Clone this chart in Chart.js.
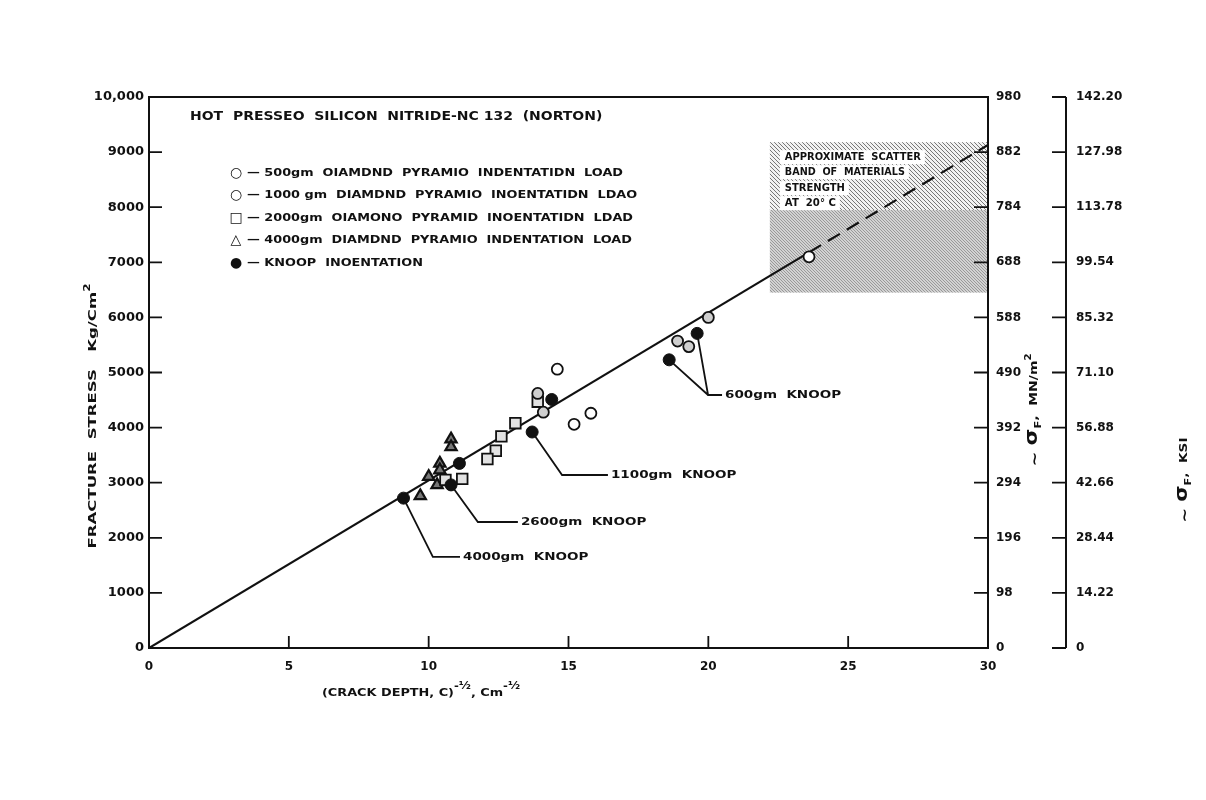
<!DOCTYPE html>
<html><head><meta charset="utf-8">
<script src="https://cdn.jsdelivr.net/npm/chart.js@4.4.0/dist/chart.umd.min.js"></script>
<style>html,body{margin:0;padding:0;background:#fff;}</style>
</head><body>
<canvas id="c" width="1206" height="800"></canvas>
<script>
// ---------- data ----------
const xTicks = [0, 5, 10, 15, 20, 25, 30];
const xTickLabels = ['0', '5', '10', '15', '20', '25', '30'];
const kgTicks = [0, 1000, 2000, 3000, 4000, 5000, 6000, 7000, 8000, 9000, 10000];
const kgTickLabels = ['0', '1000', '2000', '3000', '4000', '5000', '6000', '7000', '8000', '9000', '10,000'];
const mnTicks = [0, 98, 196, 294, 392, 490, 588, 686, 784, 882, 980];
const mnTickLabels = ['0', '98', '196', '294', '392', '490', '588', '688', '784', '882', '980'];
const ksiTicks = [0, 14.22, 28.44, 42.66, 56.88, 71.10, 85.32, 99.54, 113.76, 127.98, 142.20];
const ksiTickLabels = ['0', '14.22', '28.44', '42.66', '56.88', '71.10', '85.32', '99.54', '113.78', '127.98', '142.20'];

const load500X = [23.6, 14.6, 15.2, 15.8];
const load500Y = [7100, 5060, 4060, 4260];
const load1000X = [20.0, 18.9, 19.3, 14.1, 13.9];
const load1000Y = [6000, 5570, 5470, 4280, 4620];
const load2000X = [13.9, 13.1, 12.6, 12.4, 12.1, 11.2, 10.6];
const load2000Y = [4470, 4080, 3840, 3580, 3430, 3070, 3050];
const load4000X = [10.8, 10.8, 10.4, 10.4, 10.0, 9.7, 10.3];
const load4000Y = [3790, 3650, 3350, 3230, 3110, 2760, 2960];
const knoopX = [9.1, 10.8, 11.1, 13.7, 14.4, 18.6, 19.6];
const knoopY = [2720, 2960, 3350, 3920, 4510, 5230, 5710];

const fitSolidX = [0, 23.6];
const fitSolidY = [0, 7180];
const fitDashX = [23.6, 30];
const fitDashY = [7180, 9130];

const bandX = [22.2, 30];
const bandHatchY = [7950, 9180];
const bandGreyY = [6450, 7950];

const chartTitle = 'HOT  PRESSEO  SILICON  NITRIDE-NC 132  (NORTON)';
const legendLabels = [
  '— 500gm  OIAMDND  PYRAMIO  INDENTATIDN  LOAD',
  '— 1000 gm  DIAMDND  PYRAMIO  INOENTATIDN  LDAO',
  '— 2000gm  OIAMONO  PYRAMID  INOENTATIDN  LDAD',
  '— 4000gm  DIAMDND  PYRAMIO  INDENTATION  LOAD',
  '— KNOOP  INOENTATION'
];
const legendGlyphs = ['○', '○', '□', '△', '●'];

// ---------- helpers ----------
const FONT = '"DejaVu Sans", "Liberation Sans", sans-serif';
const pts = (xs, ys) => xs.map((v, i) => ({x: v, y: ys[i]}));

const callouts = [
  {text: '600gm  KNOOP', from: [[18.6, 5230], [19.6, 5710]], elbow: [19.99, 4592], end: 20.49},
  {text: '1100gm  KNOOP', from: [[13.7, 3920]], elbow: [14.77, 3140], end: 16.41},
  {text: '2600gm  KNOOP', from: [[10.8, 2960]], elbow: [11.76, 2287], end: 13.19},
  {text: '4000gm  KNOOP', from: [[9.1, 2720]], elbow: [10.15, 1652], end: 11.12}
];

function fitText(ctx, text, x, y, w, size, sx) {
  ctx.font = 'bold ' + size + 'px ' + FONT;
  const m = ctx.measureText(text).width;
  const s = sx ? sx : (w ? w / m : 1);
  ctx.save();
  ctx.translate(x, y);
  ctx.scale(s, 1);
  ctx.textAlign = 'left';
  ctx.textBaseline = 'middle';
  ctx.fillText(text, 0, 0);
  ctx.restore();
  return m * s;
}

function drawRuns(ctx, runs, cx, cy, rot, targetLen) {
  let total = 0;
  runs.forEach(r => { ctx.font = 'bold ' + r.size + 'px ' + FONT; r.w = ctx.measureText(r.t).width; total += r.w; });
  const s = targetLen ? targetLen / total : 1;
  ctx.save();
  ctx.translate(cx, cy);
  ctx.rotate(rot);
  let x = -total * s / 2;
  runs.forEach(r => {
    ctx.font = 'bold ' + r.size + 'px ' + FONT;
    ctx.save();
    ctx.translate(x, r.dy || 0);
    ctx.scale(s, 1);
    ctx.textAlign = 'left';
    ctx.textBaseline = 'alphabetic';
    ctx.fillText(r.t, 0, 0);
    ctx.restore();
    x += r.w * s;
  });
  ctx.restore();
}

let hatchPat = null, greyPat = null;
function makePattern(ctx, s, color, lw, bg) {
  const c = document.createElement('canvas');
  c.width = s; c.height = s;
  const g = c.getContext('2d');
  if (bg) { g.fillStyle = bg; g.fillRect(0, 0, s, s); }
  g.strokeStyle = color; g.lineWidth = lw;
  g.beginPath();
  for (let k = -1; k <= 1; k++) { g.moveTo(k * s, 0); g.lineTo(k * s + s, s); }
  g.stroke();
  return ctx.createPattern(c, 'repeat');
}

const decor = {
  id: 'decor',
  beforeDraw(chart) {
    const c = chart.ctx;
    c.save(); c.fillStyle = '#fff'; c.fillRect(0, 0, chart.width, chart.height); c.restore();
  },
  beforeDatasetsDraw(chart) {
    const {ctx, scales: {x, y}} = chart;
    if (!hatchPat) {
      hatchPat = makePattern(ctx, 4, '#777', 1, '#f2f2f2');
      greyPat = makePattern(ctx, 3, '#999', 1, '#d2d2d2');
    }
    const x0 = x.getPixelForValue(bandX[0]), x1 = x.getPixelForValue(bandX[1]);
    const yHt = y.getPixelForValue(bandHatchY[1]), yHb = y.getPixelForValue(bandHatchY[0]);
    const yGt = y.getPixelForValue(bandGreyY[1]), yGb = y.getPixelForValue(bandGreyY[0]);
    ctx.save();
    ctx.fillStyle = hatchPat; ctx.fillRect(x0, yHt, x1 - x0, yHb - yHt);
    ctx.fillStyle = greyPat; ctx.fillRect(x0, yGt, x1 - x0, yGb - yGt);
    const lines = [['APPROXIMATE  SCATTER', 15, 136], ['BAND  OF  MATERIALS', 30, 120], ['STRENGTH', 46, 60], ['AT  20° C', 61, 51]];
    ctx.fillStyle = '#fff';
    lines.forEach(l => ctx.fillRect(x0 + 10, yHt + l[1] - 7, l[2] + 9, 14));
    ctx.fillStyle = '#111';
    lines.forEach(l => fitText(ctx, l[0], x0 + 15, yHt + l[1], l[2], 10));
    ctx.restore();
  },
  afterDraw(chart) {
    const {ctx, chartArea: a, scales: {x, y, y2, y3}} = chart;
    ctx.save();
    ctx.strokeStyle = '#111'; ctx.fillStyle = '#111';
    // frame
    ctx.lineWidth = 2;
    ctx.strokeRect(a.left, a.top, a.right - a.left, a.bottom - a.top);
    // KSI axis line
    ctx.beginPath();
    ctx.moveTo(y3.left, y3.getPixelForValue(ksiTicks[0]));
    ctx.lineTo(y3.left, y3.getPixelForValue(ksiTicks[ksiTicks.length - 1]));
    ctx.stroke();
    // tick marks
    ctx.lineWidth = 1.8;
    ctx.beginPath();
    kgTicks.forEach(v => { const p = y.getPixelForValue(v); ctx.moveTo(a.left, p); ctx.lineTo(a.left + 13, p); });
    xTicks.forEach(v => { const p = x.getPixelForValue(v); ctx.moveTo(p, a.bottom); ctx.lineTo(p, a.bottom - 12); });
    mnTicks.forEach(v => { const p = y2.getPixelForValue(v); ctx.moveTo(a.right, p); ctx.lineTo(a.right - 14, p); });
    ksiTicks.forEach(v => { const p = y3.getPixelForValue(v); ctx.moveTo(y3.left, p); ctx.lineTo(y3.left - 14, p); });
    ctx.stroke();

    // common condensed text scale, taken from callout width
    ctx.font = 'bold 11px ' + FONT;
    const sx = 116 / ctx.measureText(callouts[0].text).width;
    const sxLeg = sx * 0.95;

    // title
    fitText(ctx, chartTitle, 190, 117, 0, 12, sxLeg);
    // legend
    const rowsY = [173, 195, 218, 240, 263];
    legendLabels.forEach((t, i) => {
      ctx.font = 'bold 14px ' + FONT;
      ctx.textAlign = 'center'; ctx.textBaseline = 'middle';
      ctx.fillText(legendGlyphs[i], 236, rowsY[i]);
      fitText(ctx, t, 247, rowsY[i], 0, 11, sxLeg);
    });

    // callouts
    ctx.lineWidth = 1.8;
    callouts.forEach(c => {
      const ex = x.getPixelForValue(c.elbow[0]), ey = y.getPixelForValue(c.elbow[1]);
      const endx = x.getPixelForValue(c.end);
      ctx.beginPath();
      c.from.forEach(f => { ctx.moveTo(x.getPixelForValue(f[0]), y.getPixelForValue(f[1])); ctx.lineTo(ex, ey); });
      ctx.lineTo(endx, ey);
      ctx.stroke();
      fitText(ctx, c.text, endx + 3, ey, 0, 11, sx);
    });

    // axis titles
    drawRuns(ctx, [{t: 'FRACTURE  STRESS', size: 11}, {t: '   Kg/Cm', size: 11}, {t: '2', size: 8, dy: -6}], 96, 416, -Math.PI / 2, 265);
    drawRuns(ctx, [{t: '~ ', size: 14, dy: 2}, {t: 'σ', size: 17}, {t: 'F', size: 9, dy: 4}, {t: ',  MN/m', size: 11}, {t: '2', size: 8, dy: -6}], 1037, 410, -Math.PI / 2, 113);
    drawRuns(ctx, [{t: '~ ', size: 14, dy: 2}, {t: 'σ', size: 17}, {t: 'F', size: 9, dy: 4}, {t: ',  KSI', size: 11}], 1187, 480, -Math.PI / 2, 85);
    drawRuns(ctx, [{t: '(CRACK DEPTH, C)', size: 11}, {t: '-½', size: 10, dy: -7}, {t: ', Cm', size: 11}, {t: '-½', size: 10, dy: -7}], 421, 696, 0, 198);
    ctx.restore();
  }
};

const tickSet = (vals) => (s) => { s.ticks = vals.map(v => ({value: v})); };

new Chart(document.getElementById('c'), {
  type: 'scatter',
  data: {
    datasets: [
      {label: '500gm', data: pts(load500X, load500Y), pointStyle: 'circle', pointRadius: 5.5, backgroundColor: '#fff', borderColor: '#111', borderWidth: 1.8, order: 1},
      {label: '1000gm', data: pts(load1000X, load1000Y), pointStyle: 'circle', pointRadius: 5.5, backgroundColor: '#cfcfcf', borderColor: '#111', borderWidth: 1.8, order: 1},
      {label: '2000gm', data: pts(load2000X, load2000Y), pointStyle: 'rect', pointRadius: 7.5, backgroundColor: '#e2e2e2', borderColor: '#111', borderWidth: 1.8, order: 1},
      {label: '4000gm', data: pts(load4000X, load4000Y), pointStyle: 'triangle', pointRadius: 6.5, backgroundColor: '#777', borderColor: '#111', borderWidth: 2.2, order: 1},
      {label: 'Knoop', data: pts(knoopX, knoopY), pointStyle: 'circle', pointRadius: 6, backgroundColor: '#111', borderColor: '#111', borderWidth: 1, order: 0},
      {label: 'fit', data: pts(fitSolidX, fitSolidY), showLine: true, pointRadius: 0, borderColor: '#111', borderWidth: 2.2, order: 5},
      {label: 'fit extrapolated', data: pts(fitDashX, fitDashY), showLine: true, pointRadius: 0, borderColor: '#111', borderWidth: 2.2, borderDash: [14, 8], order: 5}
    ]
  },
  options: {
    responsive: false,
    animation: false,
    devicePixelRatio: 1,
    layout: {padding: {top: 97, left: 0, right: 0, bottom: 117}},
    plugins: {legend: {display: false}, tooltip: {enabled: false}},
    scales: {
      x: {
        type: 'linear', min: 0, max: 30,
        afterBuildTicks: tickSet(xTicks),
        afterFit: (s) => { s.height = 35; },
        grid: {display: false, drawTicks: false}, border: {display: false},
        ticks: {callback: (v, i) => xTickLabels[i], color: '#111', padding: 12, font: {family: FONT, size: 12, weight: 'bold'}, maxRotation: 0}
      },
      y: {
        type: 'linear', position: 'left', min: 0, max: 10000,
        afterBuildTicks: tickSet(kgTicks),
        afterFit: (s) => { s.width = 149; },
        grid: {display: false, drawTicks: false}, border: {display: false},
        ticks: {callback: (v, i) => kgTickLabels[i], color: '#111', padding: 5, font: {family: FONT, size: 13, weight: 'bold'}}
      },
      y2: {
        type: 'linear', position: 'right', min: 0, max: 980, weight: 0,
        afterBuildTicks: tickSet(mnTicks),
        afterFit: (s) => { s.width = 78; },
        grid: {display: false, drawTicks: false}, border: {display: false},
        ticks: {callback: (v, i) => mnTickLabels[i], color: '#111', padding: 8, font: {family: FONT, size: 12, weight: 'bold'}}
      },
      y3: {
        type: 'linear', position: 'right', min: 0, max: 142.2, weight: 1,
        afterBuildTicks: tickSet(ksiTicks),
        afterFit: (s) => { s.width = 140; },
        grid: {display: false, drawTicks: false}, border: {display: false},
        ticks: {callback: (v, i) => ksiTickLabels[i], color: '#111', padding: 10, font: {family: FONT, size: 12, weight: 'bold'}}
      }
    }
  },
  plugins: [decor]
});
</script>
</body></html>
